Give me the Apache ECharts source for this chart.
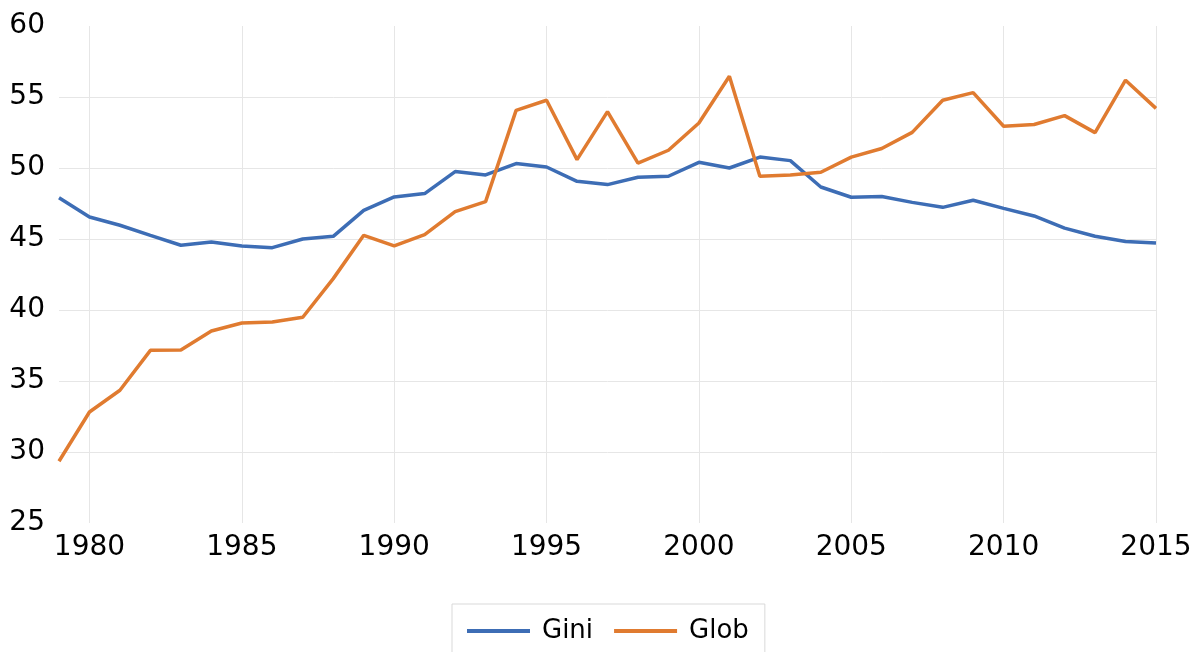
<!DOCTYPE html>
<html lang="en">

<head>
    <meta charset="UTF-8">
    <title>Gini vs Glob</title>
    <script src="https://cdn.jsdelivr.net/npm/echarts@6/dist/echarts.min.js"></script>
    <style>
        html, body { margin: 0; padding: 0; background: #fff; }
    </style>
</head>

<body>
    <div id="main" style="width: 1200px;height:652px;"></div>
    <script type="text/javascript">
        // years on the x axis
        const years = [];
        for (let y = 1979; y <= 2015; y++) years.push(String(y));

        // series values
        const gini = [47.9, 46.55, 45.97, 45.26, 44.56, 44.79, 44.51, 44.39, 45.0, 45.19,
            47.02, 47.96, 48.2, 49.75, 49.51, 50.31, 50.07, 49.06, 48.83, 49.35,
            49.42, 50.4, 50.0, 50.77, 50.52, 48.66, 47.94, 47.99, 47.58, 47.23,
            47.73, 47.16, 46.62, 45.77, 45.19, 44.82, 44.72];
        const glob = [29.35, 32.82, 34.35, 37.16, 37.18, 38.52, 39.08, 39.15, 39.49, 42.21,
            45.26, 44.51, 45.31, 46.93, 47.63, 54.06, 54.77, 50.59, 53.97, 50.35,
            51.25, 53.17, 56.46, 49.42, 49.51, 49.7, 50.77, 51.37, 52.51, 54.77,
            55.31, 52.94, 53.06, 53.69, 52.49, 56.18, 54.2];

        const font = 'DejaVu Sans';
        let myChart = echarts.init(document.getElementById('main'));

        let options = {
            animation: false,
            grid: { left: 59, right: 44, top: 26, bottom: 129, containLabel: false },
            legend: {
                left: 452,
                top: 604,
                padding: [14, 16, 30, 15],
                borderColor: '#d9d9d9',
                borderWidth: 1,
                itemWidth: 63,
                itemHeight: 4,
                itemGap: 21,
                icon: 'rect',
                textStyle: { fontFamily: font, fontSize: 26, color: '#000', padding: [0, 0, 0, 7] },
                data: ['Gini', 'Glob']
            },
            xAxis: {
                type: 'category',
                data: years,
                boundaryGap: false,
                axisLine: { show: false },
                axisTick: { show: false },
                axisLabel: {
                    interval: (i, v) => Number(v) % 5 === 0,
                    fontFamily: font, fontSize: 28, color: '#000', margin: 11
                },
                splitLine: {
                    show: true,
                    interval: (i, v) => Number(v) % 5 === 0,
                    lineStyle: { color: '#e6e6e6', width: 1 }
                }
            },
            yAxis: {
                type: 'value',
                min: 25,
                max: 60,
                interval: 5,
                axisLine: { show: false },
                axisTick: { show: false },
                axisLabel: { fontFamily: font, fontSize: 28, color: '#000', margin: 14, padding: [0, 0, 8, 0] },
                splitLine: {
                    show: true, showMinLine: false, showMaxLine: false,
                    lineStyle: { color: '#e6e6e6', width: 1 }
                }
            },
            series: [{
                name: 'Gini',
                type: 'line',
                data: gini,
                showSymbol: false,
                symbol: 'none',
                color: '#3d6db5',
                lineStyle: { width: 3.5, color: '#3d6db5' }
            }, {
                name: 'Glob',
                type: 'line',
                data: glob,
                showSymbol: false,
                symbol: 'none',
                color: '#e07b30',
                lineStyle: { width: 3.5, color: '#e07b30' }
            }]
        };

        myChart.setOption(options);
    </script>
</body>

</html>
